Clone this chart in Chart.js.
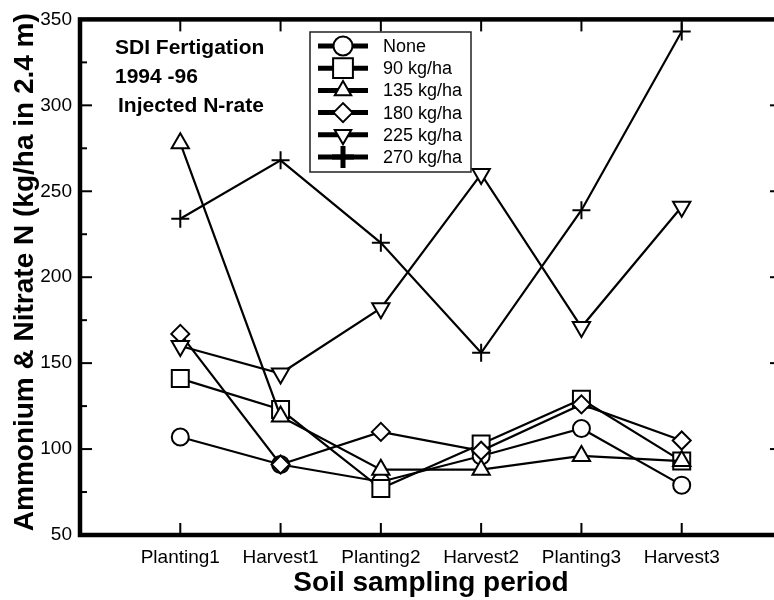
<!DOCTYPE html>
<html>
<head>
<meta charset="utf-8">
<title>Soil N by sampling period</title>
<script src="https://cdn.jsdelivr.net/npm/chart.js@4.4.1/dist/chart.umd.min.js"></script>
<style>
    html, body { margin: 0; padding: 0; background: #fff; overflow: hidden; }
    #wrap { position: relative; width: 800px; height: 600px; }
</style>
</head>
<body>
<div id="wrap"><canvas id="nitrogenChart" width="800" height="600"></canvas></div>
<script>
// Data
const periods = ['Planting1', 'Harvest1', 'Planting2', 'Harvest2', 'Planting3', 'Harvest3'];
const rateNames = ['None', '90 kg/ha', '135 kg/ha', '180 kg/ha', '225 kg/ha', '270 kg/ha'];
const rateNone = [107, 91, 81, 96, 112, 79];
const rate90 = [141, 123, 77, 103, 129, 93];
const rate135 = [278, 119, 88, 88, 96, 93];
const rate180 = [167, 91, 110, 99, 126, 105];
const rate225 = [160, 144, 182, 260, 171, 241];
const rate270 = [234, 268, 220, 156, 239, 343];
const yTicks = [50, 100, 150, 200, 250, 300, 350];
const noteLines = ['SDI Fertigation', '1994 -96', 'Injected N-rate'];
const yTitle = 'Ammonium & Nitrate N (kg/ha in 2.4 m)';

const FONT = '"Liberation Sans", Arial, Helvetica, sans-serif';

// Marker look for each series (data marks / legend marks)
const markers = [
    { style: 'circle', radius: 8.5, rotation: 0, legendRadius: 9.5 },
    { style: 'rect', radius: 12, rotation: 0, legendRadius: 14 },
    { style: 'triangle', radius: 10, rotation: 0, legendRadius: 9.5 },
    { style: 'rectRot', radius: 9, rotation: 0, legendRadius: 9.5 },
    { style: 'triangle', radius: 10, rotation: 180, legendRadius: 9.5 },
    { style: 'cross', radius: 9, rotation: 0, legendRadius: 11 }
];

const seriesValues = [rateNone, rate90, rate135, rate180, rate225, rate270];

const datasets = seriesValues.map((values, i) => ({
    label: rateNames[i],
    data: values.map((v, j) => ({ x: j + 1, y: v })),
    borderColor: '#000',
    borderWidth: 2.2,
    pointStyle: markers[i].style,
    pointRadius: markers[i].radius,
    pointRotation: markers[i].rotation,
    pointBackgroundColor: '#fff',
    pointBorderColor: '#000',
    pointBorderWidth: 2,
    tension: 0,
    fill: false,
    clip: false,
    order: seriesValues.length - i
}));

function strokeLine(ctx, x1, y1, x2, y2) {
    ctx.beginPath();
    ctx.moveTo(x1, y1);
    ctx.lineTo(x2, y2);
    ctx.stroke();
}

// frame round the plot with inward ticks on all four sides
const frameTicks = {
    id: 'frameTicks',
    afterDraw(chart) {
        const { ctx, chartArea: a, scales: { x, y } } = chart;
        ctx.save();
        ctx.strokeStyle = '#000';
        ctx.lineWidth = 2;
        yTicks.forEach((v, i) => {
            const py = y.getPixelForValue(v);
            strokeLine(ctx, a.left, py, a.left + 12, py);
            strokeLine(ctx, a.right, py, a.right - 12, py);
            if (i < yTicks.length - 1) {
                const pm = y.getPixelForValue((v + yTicks[i + 1]) / 2);
                strokeLine(ctx, a.left, pm, a.left + 7, pm);
                strokeLine(ctx, a.right, pm, a.right - 7, pm);
            }
        });
        periods.forEach((p, i) => {
            const px = x.getPixelForValue(i + 1);
            strokeLine(ctx, px, a.bottom, px, a.bottom - 12);
            strokeLine(ctx, px, a.top, px, a.top + 12);
        });
        ctx.lineWidth = 4.5;
        ctx.strokeRect(a.left, a.top, a.right - a.left, a.bottom - a.top);

        // y axis title, sat a little above the middle like the original
        ctx.save();
        ctx.translate(33, (a.top + a.bottom) / 2 - 5);
        ctx.rotate(-Math.PI / 2);
        ctx.fillStyle = '#000';
        ctx.font = 'bold 28px ' + FONT;
        ctx.textAlign = 'center';
        ctx.textBaseline = 'alphabetic';
        ctx.fillText(yTitle, 0, 0);
        ctx.restore();
        ctx.restore();
    }
};

// text notes and the boxed legend
const notesLegend = {
    id: 'notesLegend',
    afterDraw(chart) {
        const ctx = chart.ctx;
        ctx.save();
        ctx.fillStyle = '#000';
        ctx.textAlign = 'left';
        ctx.textBaseline = 'alphabetic';
        ctx.font = 'bold 21px ' + FONT;
        ctx.fillText(noteLines[0], 115, 54);
        ctx.fillText(noteLines[1], 115, 83);
        ctx.fillText(noteLines[2], 118, 112);

        // legend box
        ctx.fillStyle = '#fff';
        ctx.fillRect(310, 32, 161, 140);
        ctx.strokeStyle = '#222';
        ctx.lineWidth = 1.5;
        ctx.strokeRect(310, 32, 161, 140);

        const drawPoint = Chart.helpers && Chart.helpers.drawPoint;
        rateNames.forEach((name, i) => {
            const cy = 46 + i * 22.2;
            ctx.strokeStyle = '#000';
            ctx.lineWidth = 5;
            strokeLine(ctx, 318, cy, 368, cy);
            ctx.fillStyle = '#fff';
            ctx.lineWidth = markers[i].style === 'cross' ? 5 : 2;
            if (drawPoint) {
                drawPoint(ctx, {
                    pointStyle: markers[i].style,
                    rotation: markers[i].rotation,
                    radius: markers[i].legendRadius,
                    borderWidth: ctx.lineWidth
                }, 343, cy);
            }
            ctx.fillStyle = '#000';
            ctx.font = '18px ' + FONT;
            ctx.textBaseline = 'middle';
            ctx.fillText(name, 383, cy + 1);
        });
        ctx.restore();
    }
};

const ctx = document.getElementById('nitrogenChart').getContext('2d');
const nitrogenChart = new Chart(ctx, {
    type: 'line',
    data: { datasets: datasets },
    options: {
        responsive: false,
        animation: false,
        layout: { padding: { top: 13, right: 18, left: 0, bottom: 0 } },
        plugins: {
            legend: { display: false },
            tooltip: { enabled: false }
        },
        scales: {
            x: {
                type: 'linear',
                min: 0,
                max: periods.length + 1,
                grid: { display: false, drawTicks: false },
                border: { display: false },
                ticks: {
                    stepSize: 1,
                    autoSkip: false,
                    maxRotation: 0,
                    padding: 11,
                    color: '#000',
                    font: { family: FONT, size: 19 },
                    callback: v => periods[v - 1] || ''
                },
                title: {
                    display: true,
                    text: 'Soil sampling period',
                    color: '#000',
                    font: { family: FONT, size: 28, weight: 'bold' },
                    padding: { top: 0, bottom: 0 }
                },
                afterFit: scale => { scale.height = 65; }
            },
            y: {
                min: yTicks[0],
                max: yTicks[yTicks.length - 1],
                grid: { display: false, drawTicks: false },
                border: { display: false },
                ticks: {
                    stepSize: 50,
                    padding: 8,
                    color: '#000',
                    font: { family: FONT, size: 19 }
                },
                afterFit: scale => { scale.width = 80; }
            }
        }
    },
    plugins: [frameTicks, notesLegend]
});
</script>
</body>
</html>
